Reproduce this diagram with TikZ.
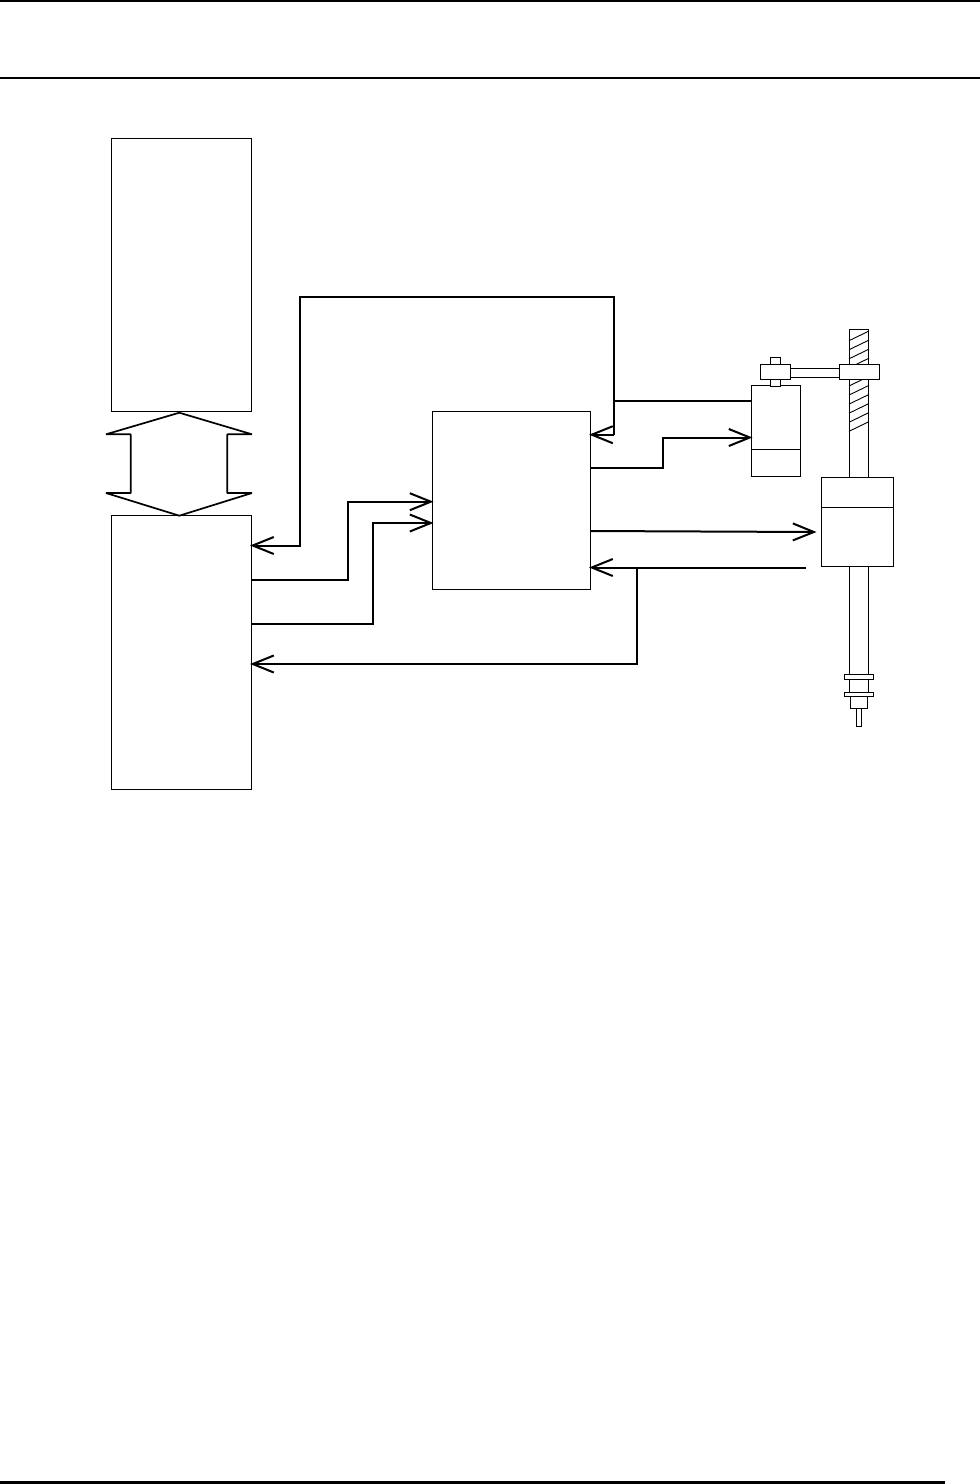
\documentclass[tikz,border=0pt]{standalone}
\usetikzlibrary{arrows.meta}
\tikzset{
  x=1pt,y=-1pt,
  block/.style={draw=black,fill=white,line width=0.8pt,inner sep=0pt,outer sep=0pt,anchor=north west,yshift=0.15pt},
  wire/.style={draw=black,line width=2pt,line join=miter},
  tip/.style={-{Straight Barb[length=21pt,width=17pt,line width=2pt]},shorten >=-1.5pt},
  part/.style={draw=black,line width=0.9pt},
  hexarrow/.style={draw=black,line width=1.7pt,line join=bevel},
  rulebar/.style={draw=black,line width=#1},
}
\begin{document}
\begin{tikzpicture}
\useasboundingbox (0,0) rectangle (980,1484);
% page rules
\coordinate (tl) at (0,0.7); \coordinate (tr) at (980,0.7);
\coordinate (ml) at (0,78); \coordinate (mr) at (980,78);
\coordinate (bl) at (0,1482.5); \coordinate (br) at (945,1482.5);
\draw[rulebar=1.6pt] (tl) -- (tr);
\draw[rulebar=2pt] (ml) -- (mr);
\draw[rulebar=3pt] (bl) -- (br);
% main blocks
\node[block,minimum width=140.6pt,minimum height=273pt] (boxA) at (111,139) {};
\node[block,minimum width=140.6pt,minimum height=274pt] (boxB) at (111,516) {};
\node[block,minimum width=158.6pt,minimum height=178pt] (boxC) at (432,412) {};
% double arrow
\coordinate (hTop) at (179.3,412.7);
\coordinate (hBot) at (179.3,515.7);
\draw[hexarrow] (hTop) -- (106,434.3) -- (130.7,434.3) -- (130.7,493) -- (106,493) -- (hBot)
  -- (252,493) -- (227.3,493) -- (227.3,434.3) -- (252,434.3) -- cycle;
% screw
\coordinate (scrTL) at (849,329.8); \coordinate (scrTR) at (868.5,329.8);
\coordinate (scrBL) at (849,674); \coordinate (scrBR) at (868.5,674);
\draw[part] (scrBL) -- (scrTL) -- (scrTR) -- (scrBR);
\foreach \k in {0,...,10}{
  \draw[part] (849,340.7+9.06*\k) -- (869,331+9.06*\k);
}
% motor
\node[block,minimum width=49.6pt,minimum height=91pt] (motor) at (751,386) {};
\coordinate (motL) at (751,449); \coordinate (motR) at (801,449);
\draw[part] (motL) -- (motR);
% clamp on motor
\node[block,minimum width=10pt,minimum height=7pt] (capTop) at (770,358) {};
\node[block,minimum width=10pt,minimum height=7pt] (capNeck) at (770,380) {};
\node[block,minimum width=29.6pt,minimum height=15pt] (capBody) at (760.5,364.5) {};
% arm
\node[block,minimum width=39.3pt,minimum height=14.5pt] (clamp) at (839.7,365) {};
\draw[part] (capBody.east |- 0,368) -- (clamp.west |- 0,368);
\draw[part] (capBody.east |- 0,377) -- (clamp.west |- 0,377);
% nut / cylinder
\node[block,minimum width=72.6pt,minimum height=89pt] (cyl) at (821,478) {};
\coordinate (cylL) at (821,507); \coordinate (cylR) at (894,507);
\draw[part] (cylL) -- (cylR);
% lower end of screw
\node[block,minimum width=29.5pt,minimum height=5pt] (col1) at (844,674.3) {};
\node[block,minimum width=29.5pt,minimum height=4.7pt] (col2) at (844,692.3) {};
\draw[part] (849,679.3) -- (849,692.3);
\draw[part] (868.5,679.3) -- (868.5,692.3);
\node[block,minimum width=17.7pt,minimum height=11.3pt] (foot) at (850,697) {};
\node[block,minimum width=5.7pt,minimum height=18pt] (pin) at (856,708.3) {};
% connectors
\draw[wire] (614,401) -- (motor.west |- 0,401);
\draw[wire,tip] (614,434.7) -- (614,297) -- (300,297) -- (300,545.5) -- (boxB.east |- 0,545.5);
\draw[wire,tip] (614,434.7) -- (boxC.east |- 0,434.7);
\draw[wire,tip] (boxB.east |- 0,580) -- (348,580) -- (348,501.7) -- (boxC.west |- 0,501.7);
\draw[wire,tip] (boxB.east |- 0,624) -- (372.5,624) -- (372.5,523) -- (boxC.west |- 0,523);
\draw[wire,tip] (637,567.5) -- (637,664) -- (boxB.east |- 0,664);
\draw[wire,tip] (806,567.5) -- (boxC.east |- 0,567.5);
\draw[wire,tip] (boxC.east |- 0,468) -- (663,468) -- (663,437.5) -- (motor.west |- 0,437.5);
\coordinate (cylIn) at (815,532);
\draw[wire,tip] (boxC.east |- 0,531) -- (cylIn);
\end{tikzpicture}
\end{document}
